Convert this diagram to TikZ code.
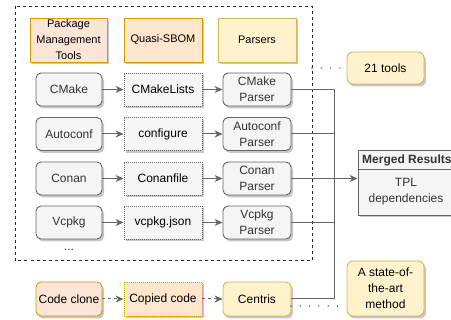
\documentclass[tikz,border=0pt]{standalone}
\usepackage{fontspec}
\setmainfont{Liberation Sans}
\usetikzlibrary{shadows,arrows.meta}
\definecolor{grayfill}{HTML}{F5F5F5}
\definecolor{graydraw}{HTML}{666666}
\definecolor{graytext}{HTML}{333333}
\definecolor{pinkfill}{HTML}{FCE4D6}
\definecolor{orangefill}{HTML}{FFE6CC}
\definecolor{orangedraw}{HTML}{D79B00}
\definecolor{yellowfill}{HTML}{FFF2CC}
\definecolor{yellowdraw}{HTML}{D6B656}
\tikzset{
  base/.style={draw, line width=0.9pt, inner sep=0pt, align=center,
    font=\fontsize{12}{16}\selectfont,
    drop shadow={shadow xshift=2pt, shadow yshift=-2.5pt, opacity=0.22, fill=black}},
  toolbox/.style={base, fill=grayfill, draw=graydraw, text=graytext, rounded corners=5pt,
    minimum width=66pt, minimum height=33pt},
  sbombox/.style={base, fill=grayfill, draw=graydraw, text=black,
    dash pattern=on 1pt off 1pt, minimum width=78pt, minimum height=33pt},
  parserbox/.style={base, fill=grayfill, draw=graydraw, text=graytext, rounded corners=5pt,
    minimum width=68pt, minimum height=33pt},
  headbox/.style={base, minimum height=44pt, font=\fontsize{11}{16}\selectfont},
  note/.style={base, fill=yellowfill, draw=yellowdraw, rounded corners=6pt, minimum width=77pt},
  flow/.style={draw=graydraw, line width=1pt, -{Stealth[length=8pt,width=7pt,inset=2.5pt]}},
  dflow/.style={flow, dash pattern=on 3pt off 3pt},
  joinline/.style={draw=graydraw, line width=1pt},
  dotline/.style={draw=graydraw, line width=1.6pt, line cap=round, dash pattern=on 0pt off 9.3pt},
  frame/.style={draw=black!85, line width=1pt, dash pattern=on 3pt off 3pt}
}
\begin{document}
\begin{tikzpicture}[x=1pt,y=-1pt]
\useasboundingbox (0,0) rectangle (451,320);
\fill[white] (0,0) rectangle (451,320);

% dashed frame
\draw[frame] (15,6.5) rectangle (312,261);

% headers
\node[headbox, fill=pinkfill, draw=orangedraw, minimum width=77pt] (hpmt) at (68.5,40) {Package\\Management\\Tools};
\node[headbox, fill=orangefill, draw=orangedraw, minimum width=78pt] (hsbom) at (163,40) {Quasi-SBOM};
\node[headbox, fill=yellowfill, draw=yellowdraw, minimum width=78pt] (hpar) at (257,40) {Parsers};

% rows
\node[toolbox] (t1) at (69,89.5) {CMake};
\node[sbombox] (s1) at (163,89.5) {CMakeLists};
\node[parserbox] (p1) at (257,89.5) {CMake\\Parser};

\node[toolbox] (t2) at (69,134) {Autoconf};
\node[sbombox] (s2) at (163,134) {configure};
\node[parserbox] (p2) at (257,134) {Autoconf\\Parser};

\node[toolbox] (t3) at (69,178.5) {Conan};
\node[sbombox] (s3) at (163,178.5) {Conanfile};
\node[parserbox] (p3) at (257,178.5) {Conan\\Parser};

\node[toolbox] (t4) at (69,222.5) {Vcpkg};
\node[sbombox] (s4) at (163,222.5) {vcpkg.json};
\node[parserbox] (p4) at (257,222.5) {Vcpkg\\Parser};

\node[font=\fontsize{12}{14}\selectfont, text=graytext, inner sep=0pt] (dots) at (69,250) {...};

% bottom row
\node[base, fill=pinkfill, draw=orangedraw, rounded corners=5pt, minimum width=66pt, minimum height=34pt] (cc) at (69,299) {Code clone};
\node[base, fill=orangefill, draw=orangedraw, dash pattern=on 1pt off 1pt, minimum width=78pt, minimum height=34pt] (cp) at (163,299) {Copied code};
\node[base, fill=yellowfill, draw=yellowdraw, rounded corners=5pt, minimum width=68pt, minimum height=34pt] (ce) at (257,299) {Centris};

% notes
\node[note, minimum height=32pt] (n21) at (385.5,68) {21 tools};
\node[note, minimum height=55pt] (nsota) at (385.5,288.5) {A state-of-\\the-art\\method};

% merged results
\node[base, fill=grayfill, draw=graydraw, text=graytext, minimum width=100pt, minimum height=65pt] (mr) at (408,182.5) {};
\node[inner sep=0pt, font=\bfseries\fontsize{12}{16}\selectfont, text=graytext, anchor=west] (mrt) at (362,160) {Merged Results};
\coordinate (mrl) at (358,169);
\coordinate (mrr) at (458,169);
\draw[draw=graydraw, line width=0.9pt] (mrl) -- (mrr);
\node[inner sep=0pt, align=center, font=\fontsize{12}{16}\selectfont, text=graytext] (mrb) at (406,192) {TPL\\dependencies};

% arrows in rows
\foreach \i in {1,2,3,4}{
  \draw[flow] (t\i) -- (s\i);
  \draw[flow] (s\i) -- (p\i);
}
\draw[dflow] (cc) -- (cp);
\draw[dflow] (cp) -- (ce);

% joins
\coordinate (jtop) at (334,89.5);
\coordinate (jbot) at (334,299);
\draw[joinline] (p1.east) -- (jtop) -- (jbot) -- (ce.east);
\draw[joinline] (p2.east) -- (p2.east -| jtop);
\draw[joinline] (p4.east) -- (p4.east -| jtop);
\draw[flow] (p3.east) -- (p3.east -| mr.west);

% dotted links
\coordinate (fr) at (312,68);
\draw[dotline] (fr) -- (n21.west);
\coordinate (cebr) at (291,306);
\draw[dotline] (cebr) -- (cebr -| nsota.west);
\end{tikzpicture}
\end{document}
